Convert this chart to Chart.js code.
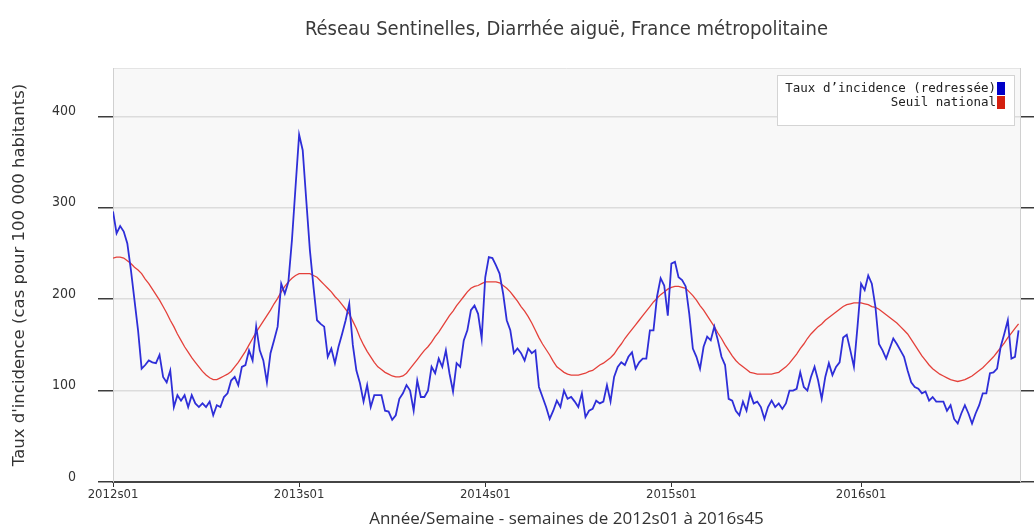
<!DOCTYPE html>
<html><head><meta charset="utf-8">
<script src="https://cdn.jsdelivr.net/npm/chart.js@4.4.1/dist/chart.umd.min.js"></script>
<style>html,body{margin:0;padding:0;background:#fff;}canvas{display:block}</style>
</head><body>
<canvas id="c" width="1034" height="531"></canvas>
<script>
const years = [2012, 2013, 2014, 2015, 2016];
const weeksInYear = [52, 52, 52, 53, 45];
const weeks = [];
years.forEach((y, k) => { for (let w = 1; w <= weeksInYear[k]; w++) weeks.push(y + 's' + String(w).padStart(2, '0')); });
const tickLabels = ['2012s01', '2013s01', '2014s01', '2015s01', '2016s01'];
const yTicks = [0, 100, 200, 300, 400];

const incidence = [
296,272,280,274,261,232,199,166,124,128,133,131,130,139,115,109,122,82,95,89,95,82,95,86,82,86,82,88,73,84,82,93,97,111,115,106,126,128,144,133,170,144,133,109,141,155,170,217,206,219,265,323,
380,363,308,254,214,177,173,170,137,146,130,148,162,177,195,150,122,108,88,106,82,95,95,95,78,77,68,73,91,97,106,100,78,111,93,93,100,126,119,135,126,144,119,99,130,126,155,166,188,193,184,157,
224,246,245,237,228,206,177,166,141,146,141,133,146,141,144,104,93,82,69,78,89,82,100,91,93,88,82,97,71,78,80,89,86,88,106,88,115,126,131,128,137,142,124,131,135,135,166,166,203,223,215,182,
239,241,224,221,214,184,146,137,124,148,159,155,170,155,137,128,91,89,78,73,88,78,97,86,88,82,69,82,89,82,86,80,86,100,100,102,120,104,100,115,126,111,91,115,130,117,126,131,158,161,144,126,170,
217,210,226,217,192,151,144,135,146,157,151,144,137,122,109,104,102,97,99,89,93,88,88,88,78,84,69,64,75,84,75,64,75,84,97,97,119,120,124,148,162,177,135,137,166
];
const seuil = [
245,246,246,245,242,239,235,232,228,222,217,211,205,199,192,185,177,170,162,155,148,142,136,131,126,121,117,114,112,112,114,116,118,121,126,131,137,143,150,157,164,170,176,182,188,195,201,208,214,219,223,226,
228,228,228,228,226,224,220,216,212,208,203,199,194,189,184,176,168,158,150,143,137,131,126,123,120,118,116,115,115,116,119,124,129,134,139,144,148,153,159,164,170,176,182,187,193,198,203,208,212,214,
215,217,219,219,219,219,218,215,212,208,203,198,192,187,181,174,166,158,151,145,139,132,126,123,120,118,117,117,117,118,119,121,122,125,128,130,133,136,140,146,151,157,162,167,172,177,182,187,192,197,201,205,208,211,
213,214,214,213,212,208,204,199,193,188,182,176,170,163,157,150,144,138,133,129,126,123,120,119,118,118,118,118,118,119,120,123,126,130,135,140,146,151,157,162,166,170,173,177,180,183,186,189,192,194,195,196,196,
196,195,194,192,191,189,186,183,180,177,174,170,166,162,156,150,144,138,133,128,124,121,118,116,114,112,111,110,111,112,114,116,119,122,125,129,133,137,142,147,152,158,163,168,173
];

const NARROW = "'Liberation Sans Narrow','DejaVu Sans Condensed','Roboto Condensed','Open Sans Condensed','Open Sans',sans-serif";

const bgPlugin = {
  id: 'bgPlugin',
  beforeDraw(chart) {
    const {ctx, chartArea: a} = chart;
    ctx.save();
    ctx.fillStyle = '#ffffff';
    ctx.fillRect(0, 0, chart.width, chart.height);
    ctx.fillStyle = '#f8f8f8';
    ctx.fillRect(a.left, a.top, a.right - a.left, a.bottom - a.top);
    ctx.strokeStyle = '#e4e4e4';
    ctx.lineWidth = 1;
    ctx.beginPath();
    ctx.moveTo(a.left, a.top + 0.5);
    ctx.lineTo(a.right, a.top + 0.5);
    ctx.stroke();
    ctx.restore();
  }
};

const legendPlugin = {
  id: 'legendPlugin',
  afterDraw(chart) {
    const {ctx, chartArea: a} = chart;
    const ds = chart.data.datasets;
    const right = a.right - 5, top = a.top + 7, w = 238, h = 51;
    ctx.save();
    ctx.fillStyle = '#ffffff';
    ctx.fillRect(right - w, top, w, h);
    ctx.strokeStyle = '#d4d4d4';
    ctx.lineWidth = 1;
    ctx.strokeRect(right - w + 0.5, top + 0.5, w - 1, h - 1);
    ctx.font = "12.5px 'DejaVu Sans Mono','Liberation Mono',monospace";
    ctx.textAlign = 'right';
    ctx.textBaseline = 'middle';
    ds.forEach((d, k) => {
      const cy = top + 14 + k * 14;
      ctx.fillStyle = '#222';
      ctx.fillText(d.label, right - 19, cy);
      ctx.fillStyle = d.swatch;
      ctx.fillRect(right - 18, cy - 7, 8, 13);
    });
    ctx.restore();
  }
};

new Chart(document.getElementById('c'), {
  type: 'line',
  data: {
    datasets: [
      { label: 'Taux d\u2019incidence (redress\u00e9e)', data: incidence.map((v, i) => ({x: i, y: v})),
        borderColor: '#2e2ed8', borderWidth: 1.8, pointRadius: 0, tension: 0, swatch: '#0000c8', order: 1 },
      { label: 'Seuil national', data: seuil.map((v, i) => ({x: i, y: v})),
        borderColor: '#e4403a', borderWidth: 1.3, pointRadius: 0, tension: 0, swatch: '#d42010', order: 2 }
    ]
  },
  options: {
    responsive: false,
    animation: false,
    devicePixelRatio: 1,
    layout: { padding: 0 },
    plugins: {
      legend: { display: false },
      tooltip: { enabled: false },
      title: {
        display: true, fullSize: false,
        text: 'R\u00e9seau Sentinelles, Diarrh\u00e9e aigu\u00eb, France m\u00e9tropolitaine',
        color: '#3a3a3a', font: { family: NARROW, size: 20, weight: 'normal', lineHeight: 1.2 },
        padding: { top: 18, bottom: 26 }
      }
    },
    scales: {
      x: {
        type: 'linear', min: 0, max: 253.4,
        afterBuildTicks: s => { s.ticks = tickLabels.map(l => ({ value: weeks.indexOf(l) })); },
        afterFit: s => { s.height = 49; },
        ticks: { autoSkip: false, maxRotation: 0, padding: 0, color: '#333',
          font: { family: NARROW, size: 13 }, callback: v => weeks[v] },
        grid: { drawOnChartArea: false, tickLength: 5, tickColor: '#333', color: '#333' },
        border: { color: '#444', width: 2 },
        title: { display: true, text: 'Ann\u00e9e/Semaine - semaines de 2012s01 \u00e0 2016s45', color: '#333',
          font: { family: "'Open Sans',sans-serif", size: 17 }, padding: { top: 0, bottom: 2 } }
      },
      y: {
        position: 'left', min: 0, max: 453,
        afterBuildTicks: s => { s.ticks = yTicks.map(v => ({ value: v })); },
        afterFit: s => { s.width = 113; },
        ticks: { padding: 22, color: '#333', font: { family: NARROW, size: 14 }, labelOffset: -5 },
        grid: { color: c => (c.tick && c.tick.value === 0) ? 'rgba(0,0,0,0)' : '#dcdcdc',
          tickColor: '#3c3c3c', tickLength: 15, lineWidth: 1.5 },
        border: { color: '#d0d0d0', width: 1 },
        title: { display: true, text: 'Taux d\'incidence (cas pour 100 000 habitants)', color: '#333',
          font: { family: "'DejaVu Sans',sans-serif", size: 16.5 }, padding: { top: 10 } }
      },
      y2: {
        position: 'right', min: 0, max: 453,
        afterBuildTicks: s => { s.ticks = yTicks.map(v => ({ value: v })); },
        afterFit: s => { s.width = 14; },
        ticks: { display: false },
        grid: { drawOnChartArea: false, tickLength: 14, tickColor: '#3c3c3c', lineWidth: 1.5 },
        border: { color: '#d0d0d0', width: 1 }
      }
    }
  },
  plugins: [bgPlugin, legendPlugin]
});
</script>
</body></html>
